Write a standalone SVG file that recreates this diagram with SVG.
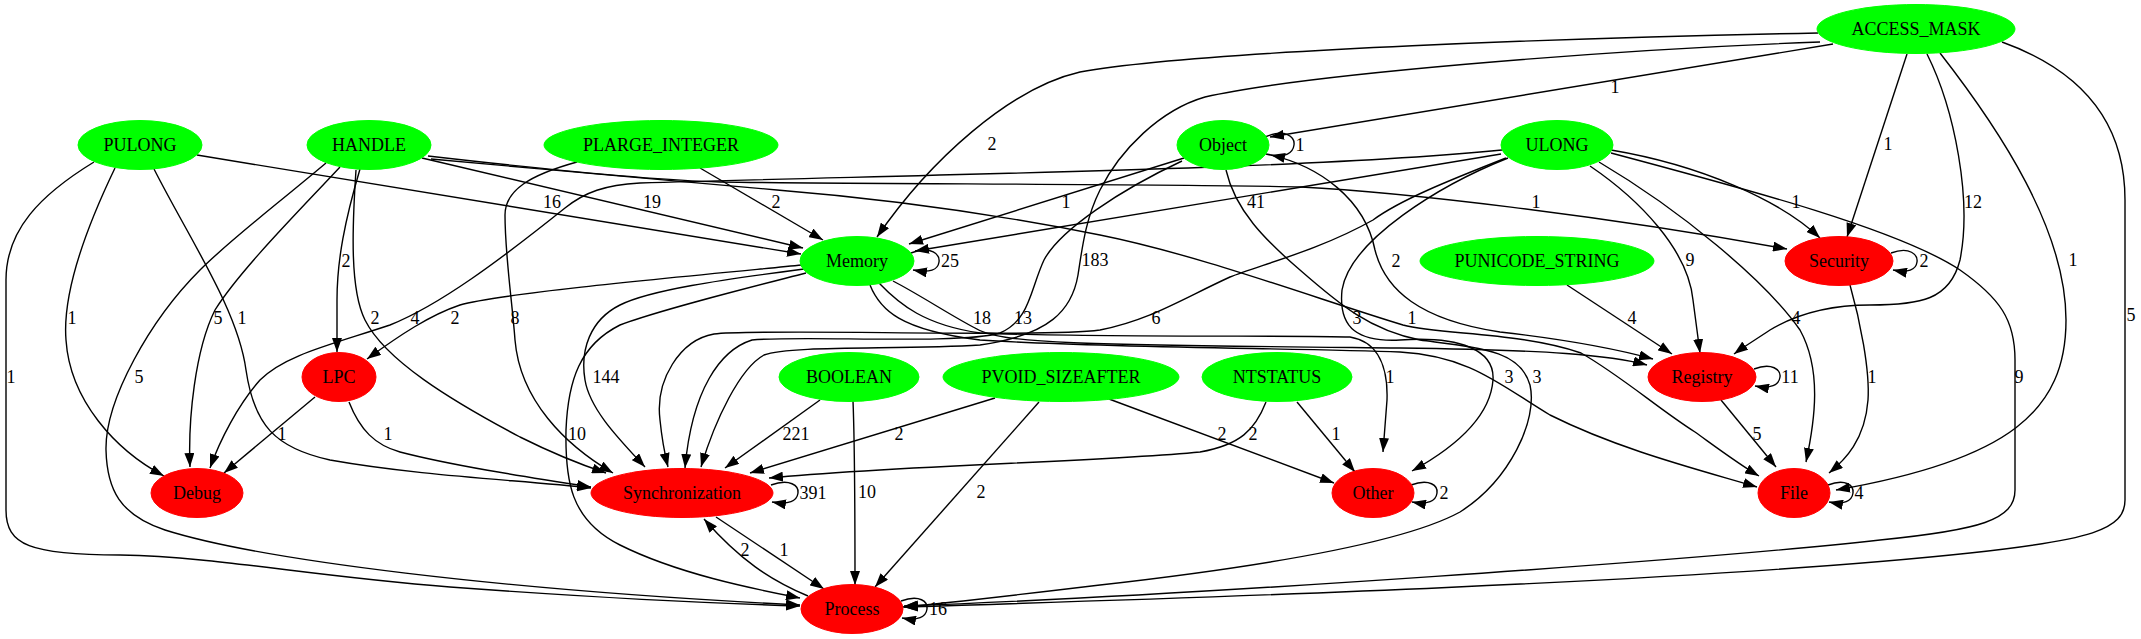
<svg xmlns="http://www.w3.org/2000/svg" width="2141" height="639" viewBox="0 0 2141 639">
<style>
.e{fill:none;stroke:#000;stroke-width:1.4;marker-end:url(#ah)}
.l{fill:none;stroke:#000;stroke-width:1.4}
text{font-family:"Liberation Serif","Times New Roman",serif;font-size:18px;text-anchor:middle;fill:#000}
.g{fill:#00ff00;stroke:#00ff00}
.r{fill:#ff0000;stroke:#ff0000}
</style>
<defs>
<marker id="ah" viewBox="0 0 14 10" refX="14" refY="5" markerWidth="14" markerHeight="10" markerUnits="userSpaceOnUse" orient="auto">
<path d="M0,0 L14,5 L0,10 z" fill="#000"/>
</marker>
</defs>
<rect width="2141" height="639" fill="#fff"/>
<g id="edges">
<path class="e" d="M1818,33 C1600,37 1200,50 1080,72 C1010,88 930,160 877,237"/><text x="992" y="150">2</text>
<path class="e" d="M1820,42 C1600,50 1300,75 1205,97 C1160,110 1120,150 1100,190 C1085,220 1082,250 1078,275 C1072,310 1050,335 980,345 C900,350 790,345 764,355 C740,368 715,420 701,467"/><text x="1095" y="266">183</text>
<path class="e" d="M1833,44 L1270,137"/><text x="1615" y="93">1</text>
<path class="e" d="M1907,54 L1847,237"/><text x="1888" y="150">1</text>
<path class="e" d="M1927,54 C1955,110 1972,200 1960,260 C1950,300 1920,305 1870,305 C1820,305 1790,318 1770,330 C1755,340 1742,348 1734,354"/><text x="1973" y="208">12</text>
<path class="e" d="M1940,53 C2000,130 2066,230 2066,320 C2066,410 2010,460 1836,490"/><text x="2073" y="266">1</text>
<path class="e" d="M2002,42 C2080,70 2125,120 2125,200 L2125,500 C2125,530 2090,540 1970,553 C1700,582 1200,598 904,607"/><text x="2131" y="321">5</text>
<path class="e" d="M197,155 L801,254"/><text x="552" y="208">16</text>
<path class="e" d="M115,168 C90,220 62,290 66,340 C70,400 115,450 164,476"/><text x="72" y="324">1</text>
<path class="e" d="M154,169 C190,240 238,310 246,370 C254,425 275,448 330,460 C420,476 520,480 591,488"/><text x="242" y="324">1</text>
<path class="e" d="M94,162 C40,195 6,230 6,280 L6,510 C6,545 30,555 120,555 C220,557 300,575 450,587 C600,598 700,603 800,606"/><text x="11" y="383">1</text>
<path class="e" d="M422,158 L803,248"/><text x="652" y="208">19</text>
<path class="e" d="M340,167 C300,210 240,270 215,310 C195,350 188,420 190,467"/><text x="218" y="324">5</text>
<path class="e" d="M326,163 C270,210 230,240 200,270 C150,320 105,400 106,450 C107,490 120,515 165,530 C260,560 500,590 800,605"/><text x="139" y="383">5</text>
<path class="e" d="M360,169 C345,220 337,260 337,300 L337,352"/><text x="346" y="267">2</text>
<path class="e" d="M356,170 C352,230 350,290 365,320 C385,360 450,400 520,437 C560,457 585,466 606,473"/><text x="375" y="324">2</text>
<path class="e" d="M428,156 C550,170 650,180 720,182 C850,184 1200,184 1301,187 C1400,192 1600,215 1787,249"/><text x="1536" y="208">1</text>
<path class="e" d="M431,159 C550,170 700,183 777,190 C900,200 1000,215 1100,235 C1200,255 1320,300 1403,325 C1440,335 1520,332 1581,353 C1620,375 1660,410 1695,432 C1720,450 1740,465 1759,476"/><text x="1412" y="324">1</text>
<path class="e" d="M700,168 L823,240"/><text x="776" y="208">2</text>
<path class="e" d="M577,162 C530,175 505,190 505,215 C505,255 512,300 515,340 C520,400 565,445 613,473"/><text x="515" y="324">8</text>
<path class="e" d="M1184,158 L909,244"/><text x="1066" y="208">1</text>
<path class="e" d="M1182,161 C1120,190 1060,230 1044,260 C1030,290 1030,320 1000,333 C960,345 800,335 752,340 C720,350 692,390 685,468"/><text x="1023" y="324">13</text>
<path class="e" d="M1265,137 C1285,128 1295,137 1294,145 C1293,153 1285,158 1271,155"/><text x="1300" y="151">1</text>
<path class="e" d="M1266,154 C1320,165 1365,200 1375,250 C1385,290 1420,320 1500,332 C1570,340 1620,350 1653,359"/><text x="1396" y="267">2</text>
<path class="e" d="M1226,170 C1235,210 1265,240 1300,270 C1340,305 1370,330 1420,340 C1480,348 1520,350 1530,385 C1538,420 1510,480 1460,512 C1400,545 1250,568 1100,585 C1000,597 950,603 903,607"/><text x="1537" y="383">3</text>
<path class="e" d="M1501,154 L915,251"/><text x="1256" y="208">41</text>
<path class="e" d="M1611,150 C1700,165 1780,200 1820,238"/><text x="1796" y="208">1</text>
<path class="e" d="M1590,166 C1640,200 1688,250 1693,300 L1700,353"/><text x="1690" y="266">9</text>
<path class="e" d="M1599,162 C1680,210 1765,280 1800,330 C1822,370 1815,420 1806,462"/><text x="1796" y="324">4</text>
<path class="e" d="M1611,153 C1750,190 1900,230 1960,270 C2000,298 2015,320 2015,360 L2015,490 C2015,520 1980,530 1880,540 C1700,560 1200,595 904,606"/><text x="2019" y="383">9</text>
<path class="e" d="M1506,158 C1450,180 1400,200 1373,220 C1320,250 1260,265 1230,277 C1180,300 1150,320 1100,330 C1040,338 760,328 714,334 C680,340 655,380 660,420 C662,440 665,455 668,467"/><text x="1156" y="324">6</text>
<path class="e" d="M1502,150 C1300,170 900,175 640,183 C605,185 585,192 565,208 C500,260 440,305 390,325 C330,345 285,355 260,380 C238,405 220,440 210,468"/><text x="415" y="324">4</text>
<path class="e" d="M1508,158 C1440,185 1350,240 1342,290 C1338,330 1360,342 1400,340 C1460,336 1495,350 1493,380 C1490,420 1450,450 1412,471"/><text x="1357" y="324">3</text>
<path class="e" d="M802,265 C700,275 500,293 460,305 C430,315 400,335 367,359"/><text x="455" y="324">2</text>
<path class="e" d="M804,269 C720,280 650,290 620,305 C590,320 580,350 585,380 C590,410 620,440 645,467"/><text x="606" y="383">144</text>
<path class="e" d="M806,273 C740,290 660,310 620,325 C580,345 568,380 566,430 C565,480 570,520 620,545 C680,575 760,590 800,598"/><text x="577" y="440">10</text>
<path class="e" d="M911,253 C932,245 940,255 939,262 C938,270 930,273 913,270"/><text x="950" y="267">25</text>
<path class="e" d="M893,281 C920,295 950,315 975,328 C1000,345 1100,345 1400,348 C1550,350 1610,355 1647,365"/><text x="982" y="324">18</text>
<path class="e" d="M879,283 C900,305 925,325 980,333 C1100,338 1300,335 1350,337 C1380,342 1388,370 1387,400 L1383,452"/><text x="1390" y="383">1</text>
<path class="e" d="M870,285 C880,310 900,330 980,340 C1100,348 1300,348 1400,352 C1470,356 1500,385 1550,415 C1620,450 1700,470 1757,487"/><text x="1509" y="383">3</text>
<path class="e" d="M1567,285 L1672,354"/><text x="1632" y="324">4</text>
<path class="e" d="M1891,253 C1910,246 1918,255 1917,262 C1916,270 1908,273 1893,270"/><text x="1924" y="267">2</text>
<path class="e" d="M1850,285 C1860,320 1870,370 1868,400 C1865,440 1845,460 1829,473"/><text x="1872" y="383">1</text>
<path class="e" d="M820,400 L725,468"/><text x="796" y="440">221</text>
<path class="e" d="M853,401 C855,450 855,520 855,585"/><text x="867" y="498">10</text>
<path class="e" d="M995,398 L750,473"/><text x="899" y="440">2</text>
<path class="e" d="M1039,402 L875,587"/><text x="981" y="498">2</text>
<path class="e" d="M1109,399 L1334,483"/><text x="1222" y="440">2</text>
<path class="e" d="M1266,402 C1255,430 1240,445 1200,452 C1100,462 900,465 769,478"/><text x="1253" y="440">2</text>
<path class="e" d="M1297,402 L1355,472"/><text x="1336" y="440">1</text>
<path class="e" d="M1754,369 C1772,362 1781,370 1780,377 C1779,385 1771,389 1755,386"/><text x="1790" y="383">11</text>
<path class="e" d="M1721,400 L1776,467"/><text x="1757" y="440">5</text>
<path class="e" d="M315,397 L224,473"/><text x="282" y="440">1</text>
<path class="e" d="M349,402 C360,430 375,445 400,452 C450,465 520,476 591,487"/><text x="388" y="440">1</text>
<path class="e" d="M771,485 C790,478 799,486 798,493 C797,501 789,505 772,502"/><text x="813" y="499">391</text>
<path class="e" d="M716,517 L824,589"/><text x="784" y="556">1</text>
<path class="e" d="M808,596 C770,580 740,560 704,519"/><text x="745" y="556">2</text>
<path class="e" d="M1411,485 C1430,478 1438,486 1437,493 C1436,501 1428,505 1412,502"/><text x="1444" y="499">2</text>
<path class="e" d="M1828,485 C1846,478 1854,486 1853,493 C1852,501 1844,505 1829,502"/><text x="1859" y="499">4</text>
<path class="e" d="M901,601 C920,594 928,602 927,609 C926,617 918,621 902,618"/><text x="938" y="615">16</text>
</g>
<g id="node-ACCESS_MASK"><ellipse class="g" cx="1916" cy="29" rx="99" ry="24.5"/><text x="1916" y="35">ACCESS_MASK</text></g>
<g id="node-PULONG"><ellipse class="g" cx="140" cy="145" rx="62" ry="24.5"/><text x="140" y="151">PULONG</text></g>
<g id="node-HANDLE"><ellipse class="g" cx="369" cy="145" rx="62" ry="24.5"/><text x="369" y="151">HANDLE</text></g>
<g id="node-PLARGE_INTEGER"><ellipse class="g" cx="661" cy="145" rx="117" ry="24.5"/><text x="661" y="151">PLARGE_INTEGER</text></g>
<g id="node-Object"><ellipse class="g" cx="1223" cy="145" rx="46" ry="24.5"/><text x="1223" y="151">Object</text></g>
<g id="node-ULONG"><ellipse class="g" cx="1557" cy="145" rx="56" ry="24.5"/><text x="1557" y="151">ULONG</text></g>
<g id="node-Memory"><ellipse class="g" cx="857" cy="261" rx="57" ry="24.5"/><text x="857" y="267">Memory</text></g>
<g id="node-PUNICODE_STRING"><ellipse class="g" cx="1537" cy="261" rx="117" ry="24.5"/><text x="1537" y="267">PUNICODE_STRING</text></g>
<g id="node-Security"><ellipse class="r" cx="1839" cy="261" rx="54" ry="24.5"/><text x="1839" y="267">Security</text></g>
<g id="node-LPC"><ellipse class="r" cx="339" cy="377" rx="37" ry="24.5"/><text x="339" y="383">LPC</text></g>
<g id="node-BOOLEAN"><ellipse class="g" cx="849" cy="377" rx="70" ry="24.5"/><text x="849" y="383">BOOLEAN</text></g>
<g id="node-PVOID_SIZEAFTER"><ellipse class="g" cx="1061" cy="377" rx="118" ry="24.5"/><text x="1061" y="383">PVOID_SIZEAFTER</text></g>
<g id="node-NTSTATUS"><ellipse class="g" cx="1277" cy="377" rx="75" ry="24.5"/><text x="1277" y="383">NTSTATUS</text></g>
<g id="node-Registry"><ellipse class="r" cx="1702" cy="377" rx="54" ry="24.5"/><text x="1702" y="383">Registry</text></g>
<g id="node-Debug"><ellipse class="r" cx="197" cy="493" rx="46" ry="24.5"/><text x="197" y="499">Debug</text></g>
<g id="node-Synchronization"><ellipse class="r" cx="682" cy="493" rx="91" ry="24.5"/><text x="682" y="499">Synchronization</text></g>
<g id="node-Other"><ellipse class="r" cx="1373" cy="493" rx="41" ry="24.5"/><text x="1373" y="499">Other</text></g>
<g id="node-File"><ellipse class="r" cx="1794" cy="493" rx="36" ry="24.5"/><text x="1794" y="499">File</text></g>
<g id="node-Process"><ellipse class="r" cx="852" cy="609" rx="51" ry="24.5"/><text x="852" y="615">Process</text></g>
</svg>
